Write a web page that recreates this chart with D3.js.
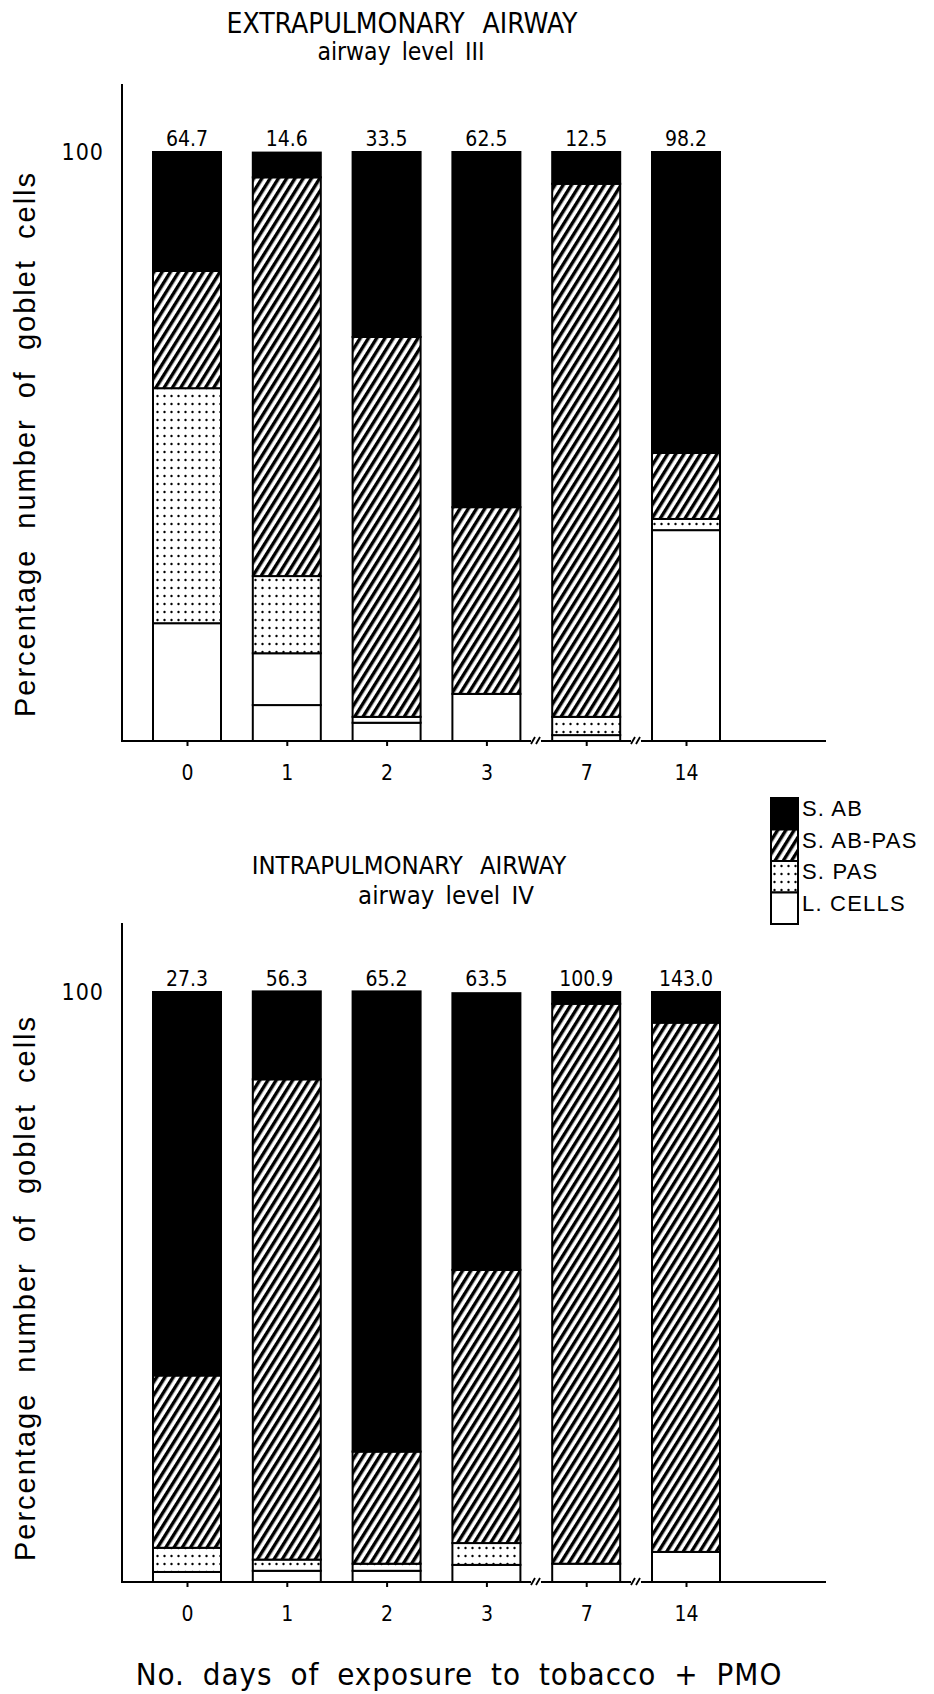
<!DOCTYPE html>
<html>
<head>
<meta charset="utf-8">
<script src="https://d3js.org/d3.v7.min.js"></script>
<title>Goblet cells, extra- and intrapulmonary airway</title>
<style>
  body { margin: 0; background: #fff; }
  .tech { font-family: "DejaVu Sans Condensed", "DejaVu Sans", sans-serif; }
  .helv { font-family: "Liberation Sans", Arial, sans-serif; }
</style>
</head>
<body>
<div id="chart"></div>
<script>

// DATA (percent of goblet cells)
const days = ["0", "1", "2", "3", "7", "14"];

const extraTotals = ["64.7", "14.6", "33.5", "62.5", "12.5", "98.2"];
const extraAB     = [20.2, 4.2, 31.4, 60.3, 5.4, 51.1];
const extraABPAS  = [19.9, 67.7, 64.5, 31.7, 90.5, 11.2];
const extraPAS    = [39.9, 13.1, 1.0, 0, 3.1, 1.9];
const extraL      = [20.0, 8.8, 3.1, 8.0, 1.0, 35.8];
const extraLLow   = [0, 6.1, 0, 0, 0, 0];   // second white block in day 1

const intraTotals = ["27.3", "56.3", "65.2", "63.5", "100.9", "143.0"];
const intraAB     = [65.0, 14.9, 78.0, 46.9, 2.0, 5.2];
const intraABPAS  = [29.2, 81.4, 19.0, 46.3, 94.9, 89.7];
const intraPAS    = [4.1, 1.9, 1.2, 3.7, 0, 0];
const intraL      = [1.7, 1.9, 1.9, 2.9, 3.1, 5.1];
const intraLLow   = [0, 0, 0, 0, 0, 0];

const legendLabels = ["S. AB", "S. AB-PAS", "S. PAS", "L. CELLS"];

// LAYOUT
const W = 934, H = 1694;
const axisX = 122, axisEnd = 826;
const barW = 68;
const breaks = [536, 636];

const svg = d3.select("#chart").append("svg")
  .attr("width", W).attr("height", H);

const defs = svg.append("defs");
const hatch = defs.append("pattern")
  .attr("id", "hatch")
  .attr("patternUnits", "userSpaceOnUse")
  .attr("width", 7).attr("height", 10)
  .attr("patternTransform", "rotate(32)");
hatch.append("rect").attr("width", 7).attr("height", 10).attr("fill", "#fff");
hatch.append("rect").attr("width", 3.4).attr("height", 10).attr("fill", "#000");

const dots = defs.append("pattern")
  .attr("id", "dots")
  .attr("patternUnits", "userSpaceOnUse")
  .attr("width", 7).attr("height", 8);
dots.append("rect").attr("width", 7).attr("height", 8).attr("fill", "#fff");
dots.append("circle").attr("cx", 3.5).attr("cy", 4).attr("r", 1.2).attr("fill", "#000");

const keys = ["lLow", "l", "pas", "abpas", "ab"];
const fills = {lLow: "#fff", l: "#fff", pas: "url(#dots)", abpas: "url(#hatch)", ab: "#000"};

const x = d3.scalePoint().domain(days).range([187, 686]);

function panel(cfg) {
  const y = d3.scaleLinear().domain([0, 100]).range([cfg.base, cfg.top]);
  const g = svg.append("g");

  const rows = days.map((d, i) => ({
    day: d,
    lLow: cfg.lLow[i], l: cfg.l[i], pas: cfg.pas[i], abpas: cfg.abpas[i], ab: cfg.ab[i]
  }));
  const series = d3.stack().keys(keys)(rows);

  series.forEach(s => {
    g.selectAll(null)
      .data(s.filter(p => p[1] - p[0] > 0))
      .enter().append("rect")
      .attr("x", p => x(p.data.day) - barW / 2)
      .attr("width", barW)
      .attr("y", p => y(p[1]))
      .attr("height", p => y(p[0]) - y(p[1]))
      .attr("fill", fills[s.key])
      .attr("stroke", "#000")
      .attr("stroke-width", 2);
  });

  // totals above bars
  g.selectAll(null).data(days).enter().append("text")
    .attr("class", "tech")
    .attr("x", d => x(d))
    .attr("y", y(100) - 6)
    .attr("text-anchor", "middle")
    .attr("font-size", 21)
    .text((d, i) => cfg.totals[i]);

  // y axis line and the single "100" label
  g.append("line")
    .attr("x1", axisX).attr("x2", axisX)
    .attr("y1", cfg.axisTop).attr("y2", cfg.base + 1)
    .attr("stroke", "#000").attr("stroke-width", 2);
  g.append("text")
    .attr("class", "tech")
    .attr("x", 104).attr("y", y(100) + 8)
    .attr("text-anchor", "end")
    .attr("font-size", 23)
    .attr("letter-spacing", 1)
    .text("100");

  // x axis with breaks
  const segs = [[axisX, breaks[0] - 5], [breaks[0] + 5, breaks[1] - 5], [breaks[1] + 5, axisEnd]];
  segs.forEach(s => {
    g.append("line")
      .attr("x1", s[0]).attr("x2", s[1])
      .attr("y1", cfg.base).attr("y2", cfg.base)
      .attr("stroke", "#000").attr("stroke-width", 2);
  });
  breaks.forEach(bx => {
    [-3, 2].forEach(o => {
      g.append("line")
        .attr("x1", bx + o - 2).attr("x2", bx + o + 2)
        .attr("y1", cfg.base + 3).attr("y2", cfg.base - 4)
        .attr("stroke", "#000").attr("stroke-width", 1.8);
    });
  });

  const ax = g.append("g")
    .attr("transform", `translate(0,${cfg.base})`)
    .call(d3.axisBottom(x).tickSize(5).tickPadding(19));
  ax.select(".domain").remove();
  ax.selectAll(".tick line").attr("stroke", "#000").attr("stroke-width", 2);
  ax.selectAll(".tick text")
    .attr("class", "tech")
    .attr("font-size", 21)
    .attr("fill", "#000");

  // titles
  svg.append("text").attr("class", "tech")
    .attr("x", cfg.titleX).attr("y", cfg.titleY)
    .attr("text-anchor", "middle").attr("font-size", cfg.titleSize)
    .attr("word-spacing", 10)
    .text(cfg.title);
  svg.append("text").attr("class", "tech")
    .attr("x", cfg.subX).attr("y", cfg.subY)
    .attr("text-anchor", "middle").attr("font-size", cfg.subSize)
    .attr("word-spacing", 4)
    .text(cfg.sub);

  // y label
  svg.append("text").attr("class", "helv")
    .attr("transform", `translate(25,${cfg.labelY}) rotate(-90)`)
    .attr("text-anchor", "middle")
    .attr("dominant-baseline", "central")
    .attr("font-size", 29)
    .attr("letter-spacing", 2)
    .attr("word-spacing", 10)
    .text("Percentage number of goblet cells");
}

panel({
  top: 152, base: 741, axisTop: 84,
  totals: extraTotals, ab: extraAB, abpas: extraABPAS, pas: extraPAS, l: extraL, lLow: extraLLow,
  title: "EXTRAPULMONARY AIRWAY", titleX: 402, titleY: 33, titleSize: 28,
  sub: "airway level III", subX: 401, subY: 60, subSize: 24.5,
  labelY: 444
});

panel({
  top: 992, base: 1582, axisTop: 923,
  totals: intraTotals, ab: intraAB, abpas: intraABPAS, pas: intraPAS, l: intraL, lLow: intraLLow,
  title: "INTRAPULMONARY AIRWAY", titleX: 409, titleY: 874, titleSize: 25.5,
  sub: "airway level IV", subX: 446, subY: 904, subSize: 25.5,
  labelY: 1288
});

// legend
const legFills = ["#000", "url(#hatch)", "url(#dots)", "#fff"];
const leg = svg.append("g").attr("transform", "translate(771,798)");
const legStep = 31.5;
leg.selectAll("rect").data(legendLabels).enter().append("rect")
  .attr("x", 0).attr("width", 27)
  .attr("y", (d, i) => i * legStep).attr("height", legStep)
  .attr("fill", (d, i) => legFills[i])
  .attr("stroke", "#000").attr("stroke-width", 2);
leg.selectAll("text").data(legendLabels).enter().append("text")
  .attr("class", "helv")
  .attr("x", 31)
  .attr("y", (d, i) => i * legStep + legStep / 2 - 5)
  .attr("dominant-baseline", "central")
  .attr("font-size", 22)
  .attr("letter-spacing", 1.2)
  .text(d => d);

// x title
svg.append("text").attr("class", "tech")
  .attr("x", 459).attr("y", 1685)
  .attr("text-anchor", "middle")
  .attr("font-size", 31)
  .attr("letter-spacing", 1)
  .attr("word-spacing", 8)
  .text("No. days of exposure to tobacco + PMO");

</script>
</body>
</html>
